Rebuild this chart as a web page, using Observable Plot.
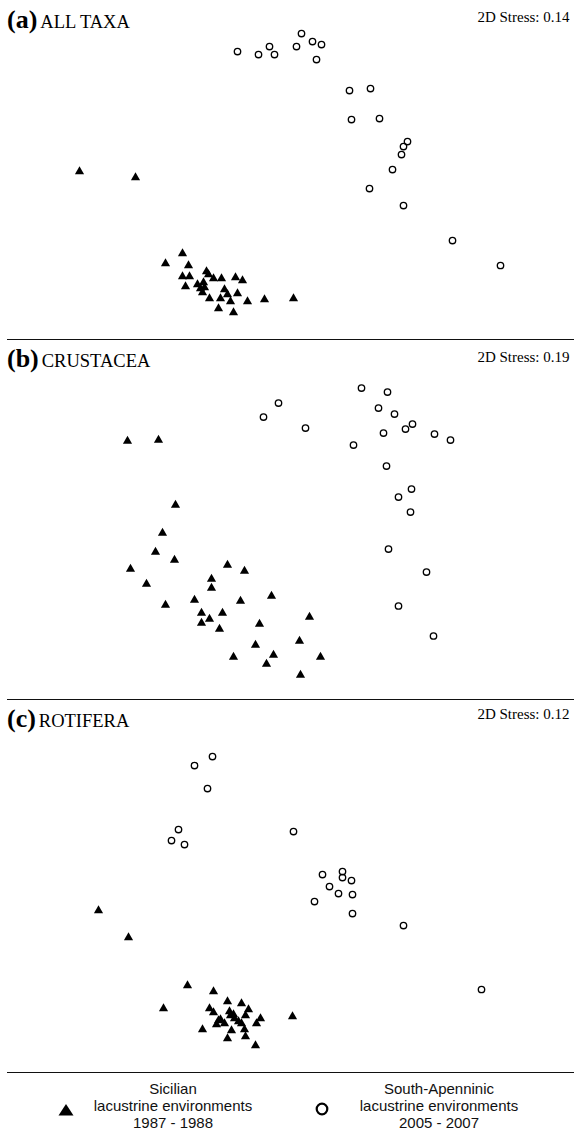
<!DOCTYPE html>
<html><head><meta charset="utf-8">
<script src="https://cdn.jsdelivr.net/npm/d3@7"></script>
<script src="https://cdn.jsdelivr.net/npm/@observablehq/plot@0.6"></script>
<style>
body{margin:0;background:#fff;}
#chart{width:574px;position:relative;}
.sep{margin-left:7px;height:0;border-top:1.5px solid #111;}
.legend{position:relative;height:57px;font-family:"Liberation Sans",Arial,sans-serif;font-size:15px;line-height:17px;color:#111;}
.legend .lab{position:absolute;top:7px;width:240px;text-align:center;}
.legend svg{position:absolute;}
</style></head><body><div id="chart"></div>
<script>
// ---- Data (NMDS coordinates) ----
const panelLetters = ["(a)", "(b)", "(c)"];
const panelNames = ["ALL TAXA", "CRUSTACEA", "ROTIFERA"];
const stressValues = [0.14, 0.19, 0.12];
const groupNames = ["Sicilian\nlacustrine environments\n1987 - 1988", "South-Apenninic\nlacustrine environments\n2005 - 2007"];

const allTaxaSicilian = [[-2.11,-0.01],[-1.55,-0.07],[-1.08,-0.83],[-1.25,-0.93],[-1.02,-0.95],[-1.08,-1.06],[-1.01,-1.06],[-1.05,-1.16],[-0.84,-1.01],[-0.82,-1.04],[-0.77,-1.08],[-0.69,-1.08],[-0.55,-1.07],[-0.48,-1.10],[-0.93,-1.14],[-0.87,-1.12],[-0.86,-1.17],[-0.90,-1.18],[-0.88,-1.22],[-0.66,-1.19],[-0.63,-1.24],[-0.53,-1.23],[-0.81,-1.28],[-0.70,-1.28],[-0.60,-1.31],[-0.43,-1.31],[-0.26,-1.29],[0.03,-1.28],[-0.72,-1.38],[-0.57,-1.42]];
const allTaxaApennine = [[-0.53,1.19],[-0.32,1.16],[-0.21,1.24],[-0.16,1.16],[0.06,1.24],[0.11,1.37],[0.22,1.29],[0.31,1.26],[0.26,1.11],[0.59,0.80],[0.80,0.82],[0.61,0.51],[0.89,0.52],[1.17,0.29],[1.13,0.24],[1.11,0.16],[1.02,0.01],[0.79,-0.18],[1.13,-0.35],[1.62,-0.70],[2.10,-0.95]];

const crustaceaSicilian = [[-1.63,0.69],[-1.32,0.70],[-1.15,0.05],[-1.28,-0.23],[-1.35,-0.42],[-1.16,-0.50],[-1.60,-0.59],[-1.44,-0.74],[-1.25,-0.95],[-0.63,-0.55],[-0.46,-0.61],[-0.79,-0.69],[-0.79,-0.78],[-0.96,-0.90],[-0.50,-0.91],[-0.19,-0.86],[-0.89,-1.03],[-0.68,-1.03],[-0.81,-1.09],[-0.89,-1.13],[-0.71,-1.19],[-0.31,-1.14],[0.19,-1.07],[-0.35,-1.35],[0.09,-1.31],[-0.17,-1.45],[-0.57,-1.47],[0.30,-1.47],[-0.24,-1.54],[0.10,-1.65]];
const crustaceaApennine = [[0.71,1.22],[0.97,1.18],[-0.12,1.07],[-0.27,0.93],[0.88,1.02],[1.04,0.96],[0.15,0.82],[0.93,0.77],[1.15,0.81],[1.22,0.86],[1.44,0.76],[1.60,0.70],[0.63,0.65],[0.96,0.44],[1.21,0.21],[1.08,0.13],[1.20,-0.02],[0.98,-0.39],[1.36,-0.62],[1.08,-0.96],[1.43,-1.26]];

const rotiferaSicilian = [[-1.92,-0.41],[-1.62,-0.68],[-1.03,-1.16],[-0.77,-1.22],[-1.27,-1.39],[0.02,-1.47],[-0.63,-1.32],[-0.49,-1.34],[-0.81,-1.39],[-0.77,-1.43],[-0.61,-1.42],[-0.42,-1.40],[-0.60,-1.46],[-0.57,-1.45],[-0.56,-1.49],[-0.45,-1.46],[-0.30,-1.49],[-0.72,-1.51],[-0.74,-1.55],[-0.66,-1.54],[-0.49,-1.54],[-0.34,-1.54],[-0.88,-1.60],[-0.59,-1.61],[-0.46,-1.60],[-0.45,-1.67],[-0.63,-1.69],[-0.35,-1.76],[-0.70,-1.50],[-0.52,-1.52]];
const rotiferaApennine = [[-0.78,1.13],[-0.96,1.04],[-0.83,0.81],[-1.12,0.40],[-1.19,0.29],[-1.06,0.25],[0.03,0.38],[0.32,-0.05],[0.52,-0.02],[0.52,-0.08],[0.61,-0.11],[0.39,-0.17],[0.48,-0.24],[0.62,-0.25],[0.24,-0.32],[0.62,-0.44],[1.13,-0.56],[1.91,-1.20]];

// ---- Layout ----
const serif = "'Liberation Serif','Times New Roman',serif";
const W = 574;
const xDomain = [-2.90, 2.84];
const panels = [
  {sic: allTaxaSicilian, ape: allTaxaApennine, yDomain: [-1.69, 1.70], height: 339, head: 27.7, stressY: 21.7},
  {sic: crustaceaSicilian, ape: crustaceaApennine, yDomain: [-1.895, 1.695], height: 359, head: 27, stressY: 21.2},
  {sic: rotiferaSicilian, ape: rotiferaApennine, yDomain: [-2.03, 1.69], height: 372, head: 27, stressY: 18.5}
];

const chart = document.getElementById("chart");
panels.forEach((p, i) => {
  const svg = Plot.plot({
    width: W, height: p.height, margin: 0,
    x: {domain: xDomain, axis: null},
    y: {domain: p.yDomain, axis: null},
    marks: [
      Plot.dot(p.sic, {x: d => d[0], y: d => d[1], symbol: "triangle", r: 3.4, fill: "#000", stroke: "none"}),
      Plot.dot(p.ape, {x: d => d[0], y: d => d[1], symbol: "circle", r: 3.2, fill: "none", stroke: "#000", strokeWidth: 1.35}),
      Plot.text([`2D Stress: ${stressValues[i].toFixed(2)}`], {
        frameAnchor: "top-right", dx: -5, dy: p.stressY, lineAnchor: "bottom", textAnchor: "end",
        fontSize: 15, fontFamily: serif, fill: "#000"
      })
    ]
  });
  const t = d3.select(svg).append("text").attr("x", 7).attr("y", p.head)
    .attr("text-anchor", "start").style("text-anchor", "start")
    .style("font-family", serif).attr("fill", "#000");
  t.append("tspan").style("font-weight", "bold").style("font-size", "26px").text(panelLetters[i]);
  t.append("tspan").style("font-size", "18.5px").attr("dx", 3).text(panelNames[i]);
  chart.appendChild(svg);
  const sep = document.createElement("div");
  sep.className = "sep";
  chart.appendChild(sep);
});

// ---- Legend ----
const legend = document.createElement("div");
legend.className = "legend";
const labCenters = [173, 439];
groupNames.forEach((name, i) => {
  const lab = document.createElement("div");
  lab.className = "lab";
  lab.style.left = (labCenters[i] - 120) + "px";
  lab.innerHTML = name.split("\n").join("<br>");
  legend.appendChild(lab);
});
const tri = d3.create("svg").attr("width", 24).attr("height", 24).style("left", "54px").style("top", "25px");
tri.append("path").attr("transform", "translate(12,12)").attr("d", "M0,-6L7.5,5.5L-7.5,5.5Z").attr("fill", "#000");
legend.appendChild(tri.node());
const cir = d3.create("svg").attr("width", 24).attr("height", 24).style("left", "310px").style("top", "23.5px");
cir.append("circle").attr("cx", 12).attr("cy", 12).attr("r", 5.3).attr("fill", "none").attr("stroke", "#000").attr("stroke-width", 2.2);
legend.appendChild(cir.node());
chart.appendChild(legend);
</script></body></html>
